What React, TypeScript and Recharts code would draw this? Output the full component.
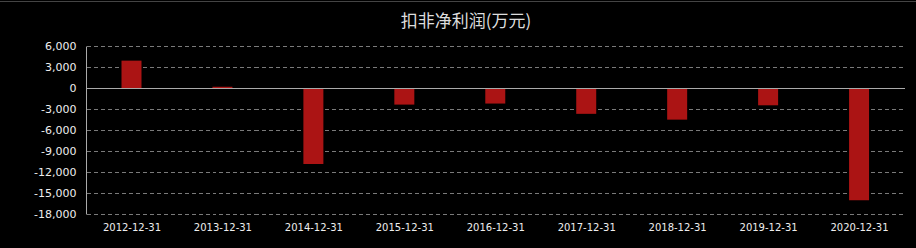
import { BarChart, Bar, XAxis, YAxis, CartesianGrid, ReferenceLine } from "recharts";

const TITLE = "扣非净利润(万元)";

const periods = [
  "2012-12-31",
  "2013-12-31",
  "2014-12-31",
  "2015-12-31",
  "2016-12-31",
  "2017-12-31",
  "2018-12-31",
  "2019-12-31",
  "2020-12-31",
];

// 万元
const profit = [3980, 250, -10800, -2300, -2150, -3620, -4450, -2400, -15950];

const yTicks = [6000, 3000, 0, -3000, -6000, -9000, -12000, -15000, -18000];

const data = periods.map((p, i) => ({ period: p, value: profit[i] }));

const fmt = (v: number) => (v < 0 ? "-" : "") + Math.abs(v).toLocaleString("en-US");

export default function App() {
  return (
    <div
      style={{
        position: "fixed",
        left: 0,
        top: 0,
        width: 916,
        height: 248,
        background: "#000",
        fontFamily: "'DejaVu Sans', sans-serif",
      }}
    >
      <div style={{ position: "absolute", left: 0, top: 1, width: 916, height: 1, background: "#444" }} />
      <div
        style={{
          position: "absolute",
          left: 8,
          top: 7,
          width: 916,
          textAlign: "center",
          color: "#ddd",
          fontSize: 17,
          fontFamily: "'Noto Sans CJK SC', sans-serif",
          lineHeight: "26px",
        }}
      >
        {TITLE}
      </div>
      <BarChart
        width={916}
        height={248}
        data={data}
        margin={{ top: 46.5, right: 11, bottom: 0, left: 0 }}
        barSize={20}
        style={{ position: "absolute", left: 0, top: 0 }}
      >
        <CartesianGrid vertical={false} stroke="#7a7a7a" strokeDasharray="4 3" shapeRendering="crispEdges" />
        <XAxis
          dataKey="period"
          height={33.5}
          tickLine={false}
          axisLine={false}
          tickSize={0}
          tickMargin={9}
          interval={0}
          tick={{ fill: "#eee", fontSize: 10 }}
        />
        <YAxis
          width={86.5}
          domain={[-18000, 6000]}
          ticks={yTicks}
          tickCount={9}
          interval={0}
          tickFormatter={fmt}
          tickLine={false}
          axisLine={{ stroke: "#aaa" }}
          tickSize={0}
          tickMargin={10}
          tick={{ fill: "#eee", fontSize: 11 }}
        />
        <ReferenceLine y={0} stroke="#aaa" />
        <Bar dataKey="value" fill="#ab1414" isAnimationActive={false} />
      </BarChart>
    </div>
  );
}
